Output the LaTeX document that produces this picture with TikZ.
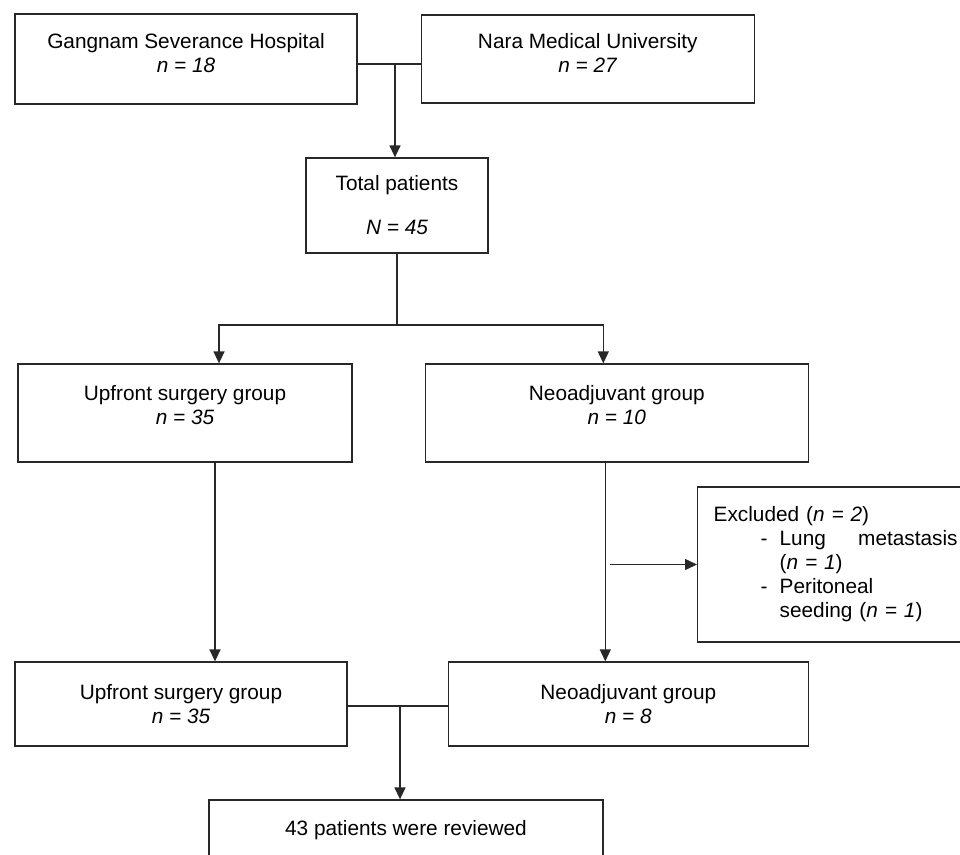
\documentclass[tikz,border=0pt]{standalone}
\usepackage{fontspec}
\setmainfont{Liberation Sans}
\usepackage{tikz}
\usetikzlibrary{arrows.meta,positioning,calc}
\definecolor{edgecol}{RGB}{40,40,40}
\newcommand{\lift}[1]{\rule[-#1]{0pt}{#1}}

\begin{document}
\begin{tikzpicture}[
  x=1pt, y=-1pt,
  font=\fontsize{20.8}{24}\selectfont,
  box/.style={draw=edgecol, line width=1.3pt, align=center, inner sep=0pt},
  link/.style={draw=edgecol, line width=1.4pt},
  flow/.style={link, -{Triangle[length=12pt, width=11pt]}},
  ]
  \useasboundingbox (0,0) rectangle (960,854);
  % centres
  \node[box, minimum width=342pt, minimum height=90pt] (gsh) at (186,59)
    {Gangnam Severance Hospital\\ \textit{n = 18}\lift{12pt}};
  \node[box, minimum width=333pt, minimum height=88pt, right=63pt of gsh] (nmu)
    {Nara Medical University\\ \textit{n = 27}\lift{12pt}};
  \node[box, minimum width=182pt, minimum height=95pt] (total) at (397,205.5)
    {Total patients\\[20pt] \textit{N = 45}};
  \node[box, minimum width=334pt, minimum height=98pt] (up1) at (185,413)
    {Upfront surgery group\\ \textit{n = 35}\lift{17pt}};
  \node[box, minimum width=383pt, minimum height=98pt, right=72pt of up1] (neo1)
    {Neoadjuvant group\\ \textit{n = 10}\lift{17pt}};
  \node[box, text width=250pt, align=left, inner xsep=16pt, minimum height=155pt,
        anchor=west] (excl) at (697,564.5)
    {Excluded (\textit{n = 2})\\
     \hspace*{47pt}\makebox[19pt][l]{-}\makebox[178pt]{Lung\hfill metastasis}\\
     \hspace*{66pt}(\textit{n = 1})\\
     \hspace*{47pt}\makebox[19pt][l]{-}Peritoneal\\
     \hspace*{66pt}seeding (\textit{n = 1})};
  \node[box, minimum width=332pt, minimum height=84pt] (up2) at (181,704)
    {Upfront surgery group\\ \textit{n = 35}};
  \node[box, minimum width=360pt, minimum height=84pt, right=100pt of up2] (neo2)
    {Neoadjuvant group\\ \textit{n = 8}};
  \node[box, minimum width=394pt, minimum height=60pt] (final) at (406,830)
    {43 patients were reviewed};
  % connectors
  \coordinate (j1) at ([yshift=-5pt]gsh.east);
  \coordinate (j2) at ([xshift=-2pt]total.south |- j1);
  \draw[link] (j1) -- (j1 -| nmu.west);
  \draw[flow] (j2) -- (j2 |- total.north);
  \coordinate (j3) at (397,325);
  \draw[link] (total.south) -- (j3);
  \draw[flow] (j3) -| ([xshift=34pt]up1.north);
  \draw[flow] (j3) -| ([xshift=-13.5pt]neo1.north);
  \draw[flow] ([xshift=30pt]up1.south) -- ([xshift=30pt]up1.south |- up2.north);
  \coordinate (j4) at ([xshift=-11.5pt]neo1.south);
  \draw[flow] (j4) -- (j4 |- neo2.north);
  \draw[flow] ([xshift=5pt]j4 |- excl.west) -- (excl.west);
  \coordinate (j5) at ([yshift=-2pt]up2.east);
  \draw[link] (j5) -- (j5 -| neo2.west);
  \draw[flow] ([xshift=-6pt]j5 -| final.north) -- ([xshift=-6pt]final.north);
\end{tikzpicture}
\end{document}
